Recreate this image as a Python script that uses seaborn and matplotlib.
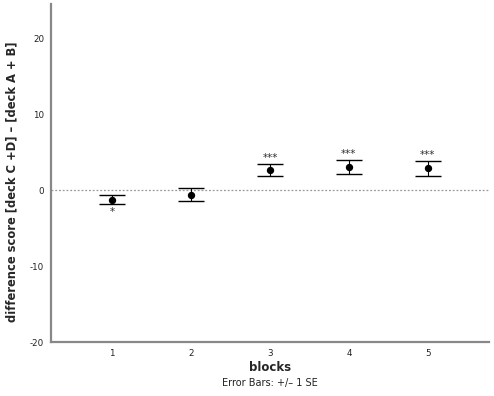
import matplotlib
matplotlib.use("Agg")
import matplotlib.pyplot as plt
import seaborn as sns
import numpy as np
import pandas as pd

# data
blocks = [1, 2, 3, 4, 5]
mean_diff = [-1.25, -0.6, 2.63, 3.03, 2.87]
se_diff = [0.62, 0.9, 0.75, 0.92, 0.99]
stars = ['*', '', '***', '***', '***']
star_below = [True, False, False, False, False]

sns.set_style('white')
plt.rcParams['font.family'] = ['DejaVu Sans']
plt.rcParams['axes.unicode_minus'] = False

df = pd.DataFrame({'block': blocks, 'mean': mean_diff, 'se': se_diff})

fig = plt.figure(figsize=(4.94, 3.96), dpi=100)
ax = fig.add_axes([51 / 494, 54 / 396, 438 / 494, 338 / 396])

# zero reference line
ax.axhline(0, color='#999999', linestyle=(0, (1.5, 1.5)), linewidth=0.9, zorder=1)

# error bars (+/- 1 SE)
ax.errorbar(df['block'], df['mean'], yerr=df['se'], fmt='none',
            ecolor='black', elinewidth=0.8, capsize=9.5, capthick=1.0, zorder=2)

sns.scatterplot(data=df, x='block', y='mean', color='black', s=28,
                edgecolor='black', linewidth=0, zorder=3, ax=ax)

# significance stars
for b, m, s, st, below in zip(blocks, mean_diff, se_diff, stars, star_below):
    if not st:
        continue
    if below:
        ax.text(b, m - s - 0.35, st, ha='center', va='top', fontsize=7.5, color='#333333')
    else:
        ax.text(b, m + s + 0.15, st, ha='center', va='bottom', fontsize=7.5, color='#333333')

ax.set_xlim(0.225, 5.775)
ax.set_ylim(-20, 24.5)
ax.set_xticks(blocks)
ax.set_yticks([-20, -10, 0, 10, 20])
ax.tick_params(axis='both', labelsize=6.3, length=3.5, width=0.8, color='#555555',
               labelcolor='#222222', direction='out', pad=1.5)

for side in ['top', 'right']:
    ax.spines[side].set_visible(False)
for side in ['left', 'bottom']:
    ax.spines[side].set_color('#888888')
    ax.spines[side].set_linewidth(1.6)

ax.set_xlabel('blocks', fontsize=8.5, fontweight='bold', labelpad=2)
ax.set_ylabel('difference score [deck C +D] \u2013 [deck A + B]', fontsize=8.3,
              fontweight='bold')
ax.yaxis.set_label_coords(-0.075, 0.473)

fig.text(270 / 494, 1 - 383 / 396, 'Error Bars: +/\u2013 1 SE', ha='center', va='center',
         fontsize=7, color='#222222')

plt.savefig('out.png', dpi=100)
plt.close()
